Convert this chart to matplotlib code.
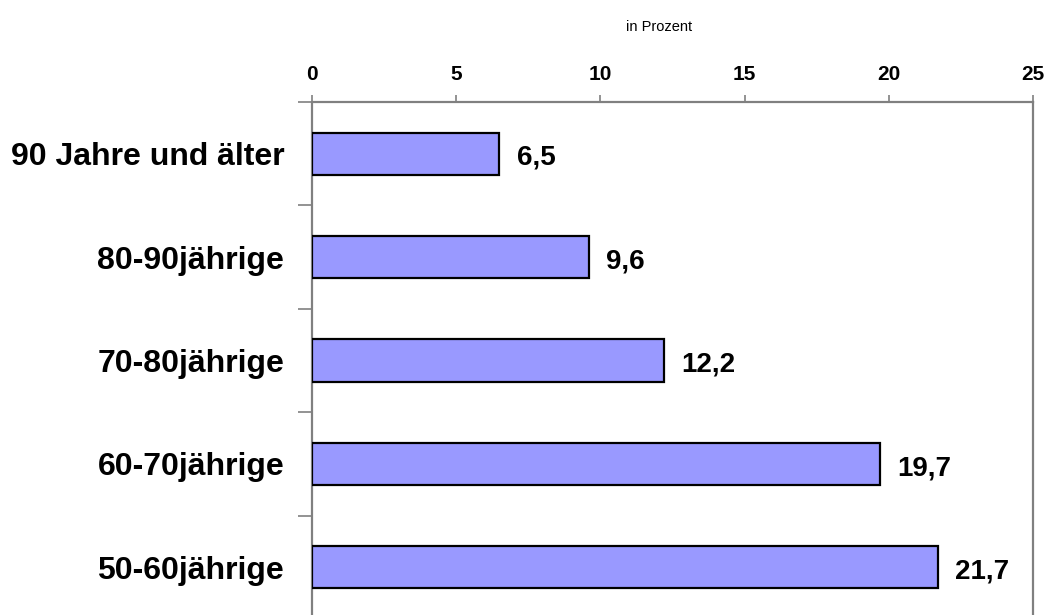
import numpy as np
import matplotlib
matplotlib.use("Agg")
import matplotlib.pyplot as plt

plt.rcParams['font.family'] = ['Liberation Sans', 'DejaVu Sans']

# Data
categories = ["90 Jahre und älter", "80-90jährige", "70-80jährige", "60-70jährige", "50-60jährige"]
values = [6.5, 9.6, 12.2, 19.7, 21.7]
labels = ["6,5", "9,6", "12,2", "19,7", "21,7"]
xticks = [0, 5, 10, 15, 20, 25]

fig = plt.figure(figsize=(10.48, 6.15), dpi=100)
# axes: left spine x=312, right x=1033, top y=102, bottom just below the image
ax = fig.add_axes([312 / 1048, -4 / 615, 721 / 1048, 517 / 615])

y = np.arange(len(categories))
ax.barh(y, values, height=0.41, color='#9999FF', edgecolor='black', linewidth=1.6, zorder=3)

ax.set_xlim(0, 25)
ax.set_ylim(len(categories) - 0.5, -0.5)

# value labels
for yi, v, lab in zip(y, values, labels):
    ax.text(v + 0.6, yi + 0.04, lab, va='center', ha='left', fontsize=20, fontweight='bold')

# x ticks on top
ax.xaxis.tick_top()
ax.set_xticks(xticks)
ax.set_xticklabels([str(t) for t in xticks], fontsize=15, fontweight='bold')
ax.tick_params(axis='x', direction='out', length=5, width=1.2, color='#808080', pad=8)

# y ticks at category boundaries, labels at centers
ax.set_yticks(np.arange(-0.5, len(categories), 1.0))
ax.set_yticklabels([])
ax.set_yticks(y, minor=True)
ax.set_yticklabels(categories, minor=True, fontsize=23, fontweight='bold')
for lab in ax.get_yticklabels(minor=True):
    lab.set_va('center_baseline')
ax.tick_params(axis='y', which='major', direction='out', length=10, width=1.2, color='#808080')
ax.tick_params(axis='y', which='minor', length=0, pad=20)

for side in ['left', 'top', 'right', 'bottom']:
    ax.spines[side].set_color('#808080')
    ax.spines[side].set_linewidth(1.6)

fig.text(659 / 1048, 1 - 27 / 615, "in Prozent", ha='center', va='center', fontsize=10.5)

fig.savefig("out.png", dpi=100)
